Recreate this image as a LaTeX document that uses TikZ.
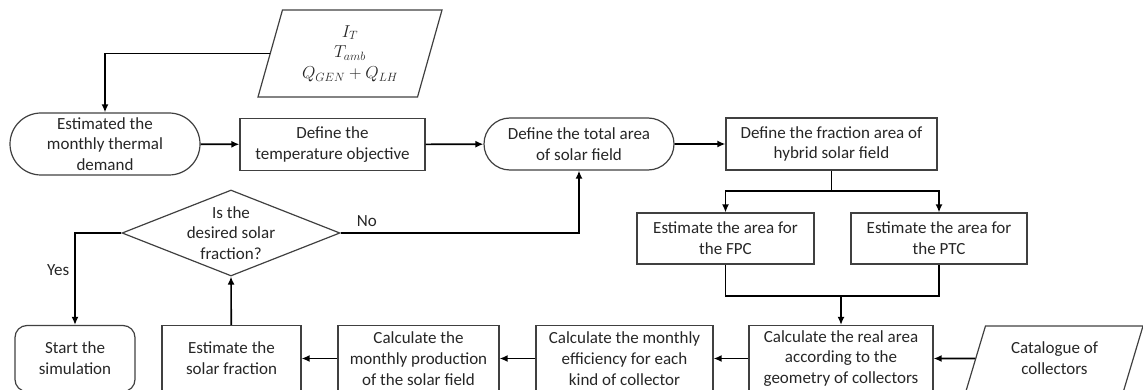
\documentclass[tikz,border=0pt]{standalone}
\usepackage{fontspec}
\setmainfont{Carlito}
\usetikzlibrary{positioning,arrows.meta,shapes.geometric,shapes.misc,calc}

\begin{document}
\begin{tikzpicture}[x=1pt, y=-1pt,
  stepbox/.style={draw=black!75, line width=1.2pt, minimum height=52pt,
                  font=\fontsize{17}{20.7}\selectfont, text=black!85,
                  align=center, inner sep=2pt},
  term/.style={stepbox, rounded rectangle},
  io/.style={stepbox, trapezium, trapezium stretches body},
  decision/.style={draw=black!75, line width=1.2pt, diamond, inner sep=0pt,
                   minimum width=218pt, minimum height=86pt},
  lowbox/.style={stepbox, minimum height=66pt},
  arrow/.style={-{Latex[length=8pt,width=7pt]}, line width=1.6pt},
  line/.style={line width=1.6pt},
  lbl/.style={font=\fontsize{17}{20.7}\selectfont, text=black!85, inner sep=1pt},
]
\useasboundingbox (0,0) rectangle (1143,390);

\node[io, trapezium left angle=68, trapezium right angle=112,
      minimum width=184pt, minimum height=87pt] (inp) at (350,53.5)
  {$I_T$\\$T_{amb}$\\$Q_{GEN}+Q_{LH}$};
\node[term, minimum width=194pt, minimum height=62pt] (est) at (105,144)
  {Estimated the\\monthly thermal\\demand};
\node[stepbox, minimum width=185pt] (temp) at (332.5,144.5)
  {Define the\\temperature objective};
\node[term, minimum width=194pt] (total) at (579,144)
  {Define the total area\\of solar field};
\node[stepbox, minimum width=211pt] (frac) at (831.5,144)
  {Define the fraction area of\\hybrid solar field};
\node[stepbox, minimum width=177pt, minimum height=51pt] (fpc) at (725.5,238.5)
  {Estimate the area for\\the FPC};
\node[stepbox, minimum width=176pt, minimum height=51pt] (ptc) at (939,238.5)
  {Estimate the area for\\the PTC};
\node[decision, label={[lbl, align=center]center:Is the\\desired solar\\fraction?}]
  (dec) at (231,233) {};

\node[lowbox, rounded corners=12pt, minimum width=120pt] (start) at (75,358.5)
  {Start the\\simulation};
\node[lowbox, minimum width=139pt] (sfrac) at (231.5,358.5)
  {Estimate the\\solar fraction};
\node[lowbox, minimum width=161pt] (prod) at (418.5,358.5)
  {Calculate the\\monthly production\\of the solar field};
\node[lowbox, minimum width=177pt] (eff) at (624.5,358.5)
  {Calculate the monthly\\efficiency for each\\kind of collector};
\node[lowbox, minimum width=184pt] (real) at (841,358.5)
  {Calculate the real area\\according to the\\geometry of collectors};
\node[io, trapezium left angle=62, trapezium right angle=118,
      minimum width=177pt, minimum height=65pt] (cat) at (1054.5,358.5)
  {Catalogue of\\collectors};

\coordinate (split) at (831.5,191);
\coordinate (merge) at (841,296);

\draw[arrow] (inp.west) -| (est.north);
\draw[arrow] (est) -- (temp);
\draw[arrow] (temp) -- (total);
\draw[arrow] (total) -- (frac);
\draw[line] (frac.south) -- (split);
\draw[arrow] (split) -| (fpc.north);
\draw[arrow] (split) -| (ptc.north);
\draw[line] (fpc.south) |- (merge) -| (ptc.south);
\draw[arrow] (merge) -- (real.north);
\draw[arrow] (cat.west) -- (real.east);
\draw[arrow] (real) -- (eff);
\draw[arrow] (eff) -- (prod);
\draw[arrow] (prod) -- (sfrac);
\draw[arrow] (sfrac) -- (dec.south);
\draw[arrow] (dec.west) -| node[lbl, pos=0.7, left=4pt] {Yes} (start.north);
\draw[arrow] (dec.east) -| node[lbl, pos=0.055, above=5pt] {No} (total.south);
\end{tikzpicture}
\end{document}
